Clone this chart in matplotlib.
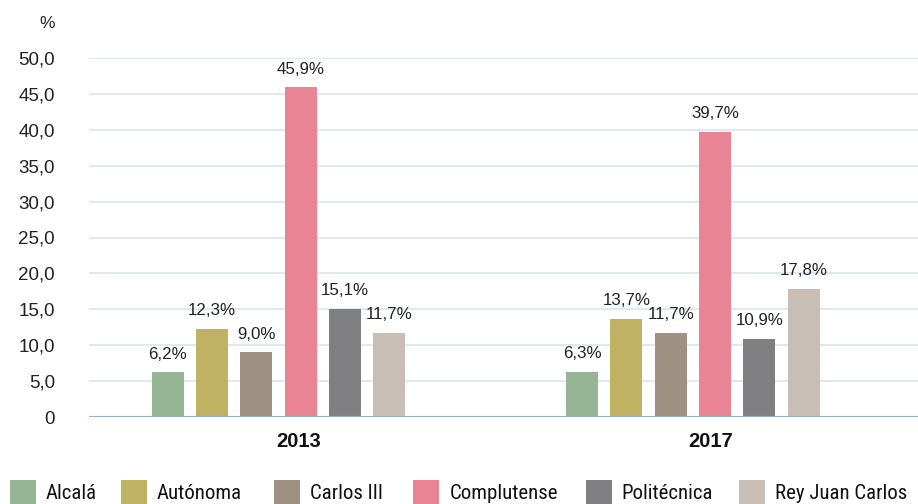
import matplotlib
matplotlib.use("Agg")
import matplotlib.pyplot as plt
from matplotlib.patches import Rectangle
from matplotlib import font_manager

years = ["2013", "2017"]
universities = ["Alcalá", "Autónoma", "Carlos III", "Complutense", "Politécnica", "Rey Juan Carlos"]
values_2013 = [6.2, 12.3, 9.0, 45.9, 15.1, 11.7]
values_2017 = [6.3, 13.7, 11.7, 39.7, 10.9, 17.8]
colors = ["#95b595", "#bfb262", "#a09282", "#e98494", "#808083", "#c9beb5"]
yticks = [0, 5, 10, 15, 20, 25, 30, 35, 40, 45, 50]

W, H = 918, 504
names = {f.name for f in font_manager.fontManager.ttflist}
base = "Liberation Sans" if "Liberation Sans" in names else "DejaVu Sans"
plt.rcParams["font.family"] = [base, "DejaVu Sans"]

# condensed font for the legend, if one is available
legend_font = {"family": base, "size": 13.5}
if "Liberation Sans Narrow" in names:
    legend_font = {"family": "Liberation Sans Narrow", "size": 15.5}
elif "Roboto Condensed" in names:
    legend_font = {"family": "Roboto Condensed", "size": 15}
elif any(f.name == "DejaVu Sans" and str(f.stretch) in ("condensed", "semi-condensed")
         for f in font_manager.fontManager.ttflist):
    legend_font = {"family": "DejaVu Sans", "size": 14, "stretch": "condensed"}

fig = plt.figure(figsize=(W/100, H/100), dpi=100)
ax = fig.add_axes([89/W, 1-417/H, 1-89/W, (417-58)/H])

spacing = 0.107
width = 0.077
shift = -0.043
data = [values_2013, values_2017]
for gi, vals in enumerate(data):
    for i, v in enumerate(vals):
        x = gi + shift + (i - 2.5) * spacing
        ax.bar(x, v, width=width, color=colors[i], zorder=3)
        ax.text(x, v + 1.5, f"{v:.1f}%".replace(".", ","), ha="center", va="bottom",
                fontsize=12.2, color="#222222", zorder=4)

ax.set_xlim(-0.5, 1.5)
ax.set_ylim(0, 50)
ax.set_yticks(yticks)
ax.set_yticklabels(["0" if t == 0 else f"{t:.1f}".replace(".", ",") for t in yticks],
                   fontsize=13.5, color="#222222")
ax.set_xticks([0.005, 1.0])
ax.set_xticklabels(years, fontsize=14.5, fontweight="bold", color="#111111")
ax.tick_params(axis="y", length=0, pad=24.5)
ax.tick_params(axis="x", length=0, pad=11)
for s in ax.spines.values():
    s.set_visible(False)
for t in yticks[1:]:
    ax.axhline(t, color="#dde7f1", lw=1.3, zorder=1)
ax.axhline(0, color="#8fb3d3", lw=1.5, zorder=5)

fig.text(55/W, 1-23/H, "%", ha="right", va="center", fontsize=12.5, color="#222222")

# legend
sw_x = [10, 121, 274, 413, 586, 739]
tx_x = [46, 157, 310, 450, 621, 775]
for c, name, sx, tx in zip(colors, universities, sw_x, tx_x):
    fig.add_artist(Rectangle((sx/W, 1-504/H), 26/W, 24/H, transform=fig.transFigure,
                             facecolor=c, edgecolor="none"))
    fig.text(tx/W, 1-499/H, name, ha="left", va="baseline", color="#111111", **legend_font)

fig.savefig("out.png", dpi=100)
